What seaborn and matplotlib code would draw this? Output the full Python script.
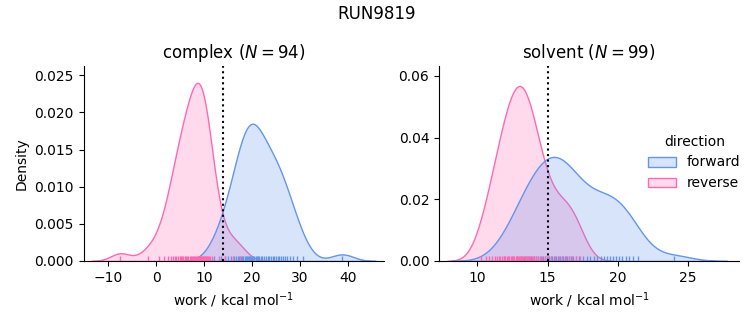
import matplotlib
matplotlib.use("Agg")
import matplotlib.pyplot as plt
from matplotlib.ticker import MultipleLocator
import numpy as np
import pandas as pd
import seaborn as sns

# ---- data (work values, kcal/mol) ----
complex_forward = [12.0, 13.4,
                   14.3, 15.0, 15.6, 16.1, 16.55, 16.95, 17.3, 17.65,
                   17.95, 18.18, 18.41, 18.64, 18.87, 19.1, 19.33, 19.56, 19.79, 20.02,
                   20.25, 20.48, 20.71, 20.94, 21.17,
                   21.45, 21.8, 22.15, 22.5, 22.85, 23.2, 23.55, 23.9, 24.25, 24.6,
                   24.95, 25.3, 25.65, 26.0, 26.4, 26.8, 27.25,
                   27.8, 28.5, 29.4, 30.5,
                   38.8]
complex_reverse = [-7.5, -1.8, 0.5, 1.7, 2.5,
                   3.15, 3.5, 3.85, 4.2, 4.55, 4.85,
                   5.12, 5.38, 5.64, 5.9, 6.16, 6.42, 6.68, 6.94,
                   7.15, 7.37, 7.59, 7.81, 8.03, 8.25, 8.47, 8.69, 8.91,
                   9.05, 9.2, 9.36, 9.51, 9.67, 9.82, 9.98, 10.13, 10.29, 10.44,
                   10.6, 10.75, 10.91,
                   11.25, 11.7,
                   13.0, 14.3, 16.0, 17.4]
solvent_forward = [11.9, 12.45, 12.8, 13.08, 13.3, 13.5, 13.68, 13.85, 14.02, 14.18,
                   14.34, 14.5, 14.65, 14.8, 14.94, 15.08, 15.21, 15.34, 15.47, 15.6,
                   15.73, 15.86, 15.99, 16.12, 16.25, 16.39, 16.53, 16.68, 16.84, 17.02,
                   17.24, 17.5, 17.78, 18.05, 18.3, 18.54, 18.77, 19.0, 19.22, 19.44,
                   19.66, 19.88, 20.1, 20.32, 20.55, 20.8, 21.08, 21.4, 24.0]
solvent_reverse = [10.25, 10.6, 10.85, 11.05, 11.23, 11.39, 11.53, 11.65, 11.77, 11.88,
                   11.99, 12.09, 12.19, 12.29, 12.38, 12.47, 12.56, 12.64, 12.72, 12.8,
                   12.88, 12.96, 13.04, 13.12, 13.2, 13.28, 13.36, 13.44, 13.52, 13.6,
                   13.68, 13.77, 13.86, 13.96, 14.07, 14.19, 14.32, 14.46, 14.62, 14.8,
                   15.0, 15.24, 15.5, 15.78, 16.04, 16.28, 16.52, 16.76, 17.0, 17.32]

phases = ["complex", "solvent"]
directions = ["forward", "reverse"]
free_energy = [14.0, 15.0]          # dotted vertical lines
run_title = "RUN9819"
palette = {"forward": "cornflowerblue", "reverse": "hotpink"}

series = {("complex", "forward"): complex_forward,
          ("complex", "reverse"): complex_reverse,
          ("solvent", "forward"): solvent_forward,
          ("solvent", "reverse"): solvent_reverse}

rows = []
for (phase, direction), vals in series.items():
    for v in vals:
        rows.append({"phase": phase, "direction": direction, "work": v})
df = pd.DataFrame(rows)

g = sns.displot(data=df, x="work", hue="direction", col="phase",
                kind="kde", fill=True, rug=True, palette=palette,
                hue_order=directions, col_order=phases,
                facet_kws=dict(sharex=False, sharey=False),
                height=3.25, aspect=1.0)

fig = g.figure
fig.set_size_inches(7.53, 3.25)
fig.set_dpi(100)

xlims = [(-15.2, 47.4), (7.28, 28.61)]
ylims = [(0, 0.02625), (0, 0.0632)]
ysteps = [0.005, 0.02]
for ax, phase, fe, xl, yl, ys in zip(g.axes.flat, phases, free_energy, xlims, ylims, ysteps):
    n = int((df["phase"] == phase).sum())
    ax.set_title(f"{phase} ($N = {n}$)")
    ax.axvline(fe, color="black", ls=":", lw=1.5)
    ax.set_xlim(*xl)
    ax.set_ylim(*yl)
    ax.yaxis.set_major_locator(MultipleLocator(ys))
    ax.set_xlabel("work / kcal mol$^{-1}$")
g.axes.flat[0].set_ylabel("Density")
g.axes.flat[1].set_ylabel("")

fig.subplots_adjust(left=0.1109, right=0.9814, bottom=0.197, top=0.797, wspace=0.185)
sns.move_legend(g, "center", bbox_to_anchor=(0.922, 0.5), frameon=False)
fig.suptitle(run_title, fontsize=12, y=0.985)

fig.savefig("out.png", dpi=100)
